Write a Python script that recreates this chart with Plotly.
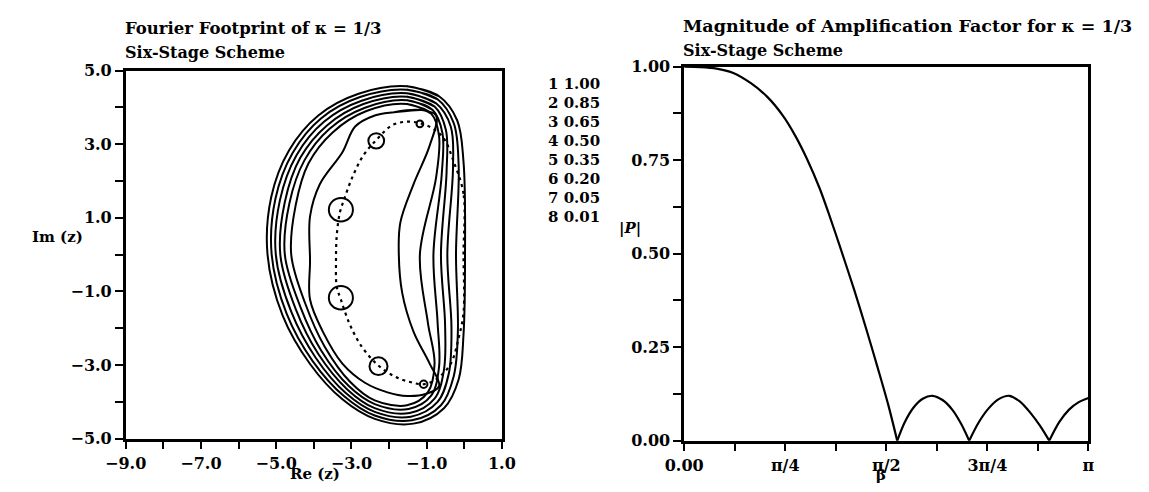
import plotly.graph_objects as go

W, H = 1149, 492

# ---------------- data: left panel (Fourier footprint, contours of |P|) ----------------
levels = [1.00, 0.85, 0.65, 0.50, 0.35, 0.20, 0.05, 0.01]

c100_x = [-1.52, -0.67, -0.19, -0.02, 0.02, -0.02, -0.15, -0.54, -1.35, -2.38, -3.24, -4.10, -4.83, -5.23, -5.13, -4.66, -3.88, -2.81]
c100_y = [4.57, 4.30, 3.65, 2.52, 0.00, -2.17, -3.39, -4.17, -4.59, -4.46, -3.93, -2.97, -1.65, 0.00, 1.57, 2.83, 3.78, 4.37]

c085_x = [-1.52, -0.71, -0.28, -0.15, -0.22, -0.17, -0.28, -0.62, -1.39, -2.38, -3.20, -4.03, -4.72, -5.12, -5.02, -4.56, -3.81, -2.77]
c085_y = [4.48, 4.22, 3.57, 2.43, 0.00, -2.09, -3.30, -4.09, -4.50, -4.37, -3.84, -2.89, -1.61, 0.00, 1.52, 2.77, 3.70, 4.28]

c065_x = [-1.52, -0.75, -0.36, -0.30, -0.45, -0.34, -0.41, -0.71, -1.42, -2.38, -3.15, -3.95, -4.60, -5.01, -4.90, -4.46, -3.73, -2.73]
c065_y = [4.38, 4.11, 3.48, 2.35, 0.00, -2.00, -3.22, -4.00, -4.40, -4.27, -3.76, -2.80, -1.55, 0.00, 1.48, 2.70, 3.61, 4.18]

c050_x = [-1.52, -0.79, -0.49, -0.47, -0.62, -0.51, -0.54, -0.79, -1.45, -2.38, -3.11, -3.88, -4.48, -4.89, -4.77, -4.36, -3.65, -2.68]
c050_y = [4.29, 4.02, 3.39, 2.26, 0.00, -1.91, -3.13, -3.91, -4.30, -4.17, -3.66, -2.70, -1.48, 0.00, 1.43, 2.63, 3.51, 4.09]

c035_x = [-1.52, -0.84, -0.58, -0.60, -0.82, -0.71, -0.67, -0.88, -1.48, -2.38, -3.07, -3.80, -4.36, -4.77, -4.65, -4.25, -3.58, -2.64]
c035_y = [4.19, 3.93, 3.30, 2.17, 0.00, -1.83, -3.04, -3.83, -4.19, -4.06, -3.57, -2.61, -1.41, 0.00, 1.39, 2.56, 3.42, 3.99]

c020_x = [-1.52, -0.88, -0.67, -0.75, -1.18, -0.97, -0.79, -0.97, -1.52, -2.38, -3.03, -3.71, -4.23, -4.60, -4.48, -4.14, -3.50, -2.60]
c020_y = [4.09, 3.83, 3.22, 2.09, 0.00, -1.83, -2.96, -3.74, -4.09, -3.96, -3.46, -2.50, -1.32, 0.00, 1.35, 2.48, 3.32, 3.90]

c005_x = [-1.87, -1.18, -0.75, -0.92, -1.35, -1.70, -1.74, -1.65, -1.35, -0.92, -0.67, -1.01, -1.52, -2.04, -2.64, -3.24, -3.76, -4.10, -4.10, -4.10, -3.84, -3.24, -2.90, -2.38]
c005_y = [3.87, 3.93, 3.78, 2.96, 1.91, 0.87, 0.00, -1.04, -2.09, -2.96, -3.57, -3.78, -3.84, -3.74, -3.48, -2.96, -2.09, -1.22, -0.17, 1.04, 1.91, 2.78, 3.48, 3.78]

# Fourier footprint (dashed)
foot_x = [-0.02, -0.02, -0.28, -0.54, -0.84, -1.18, -1.52, -1.91, -2.34, -2.68, -2.98, -3.20, -3.31, -3.39, -3.41, -3.39, -3.28, -3.07, -2.77, -2.34, -1.87, -1.44, -1.09, -0.75, -0.36, -0.15, -0.02, -0.02]
foot_y = [0.00, 1.65, 2.52, 3.15, 3.43, 3.57, 3.61, 3.52, 3.11, 2.70, 2.09, 1.48, 1.13, 0.52, -0.17, -0.87, -1.22, -1.83, -2.43, -2.96, -3.30, -3.46, -3.52, -3.39, -2.96, -2.26, -1.57, 0.00]

# zeros of P (|P| = 0.01 loops)
zero_x = [-1.18, -2.34, -3.28, -3.28, -2.28, -1.08]
zero_y = [3.55, 3.09, 1.22, -1.17, -3.03, -3.52]
zero_r = [0.09, 0.21, 0.32, 0.32, 0.24, 0.10]

left_xticks = [-9, -8, -7, -6, -5, -4, -3, -2, -1, 0, 1]
left_xlabels = ["−9.0", "", "−7.0", "", "−5.0", "", "−3.0", "", "−1.0", "", "1.0"]
left_yticks = [-5, -4, -3, -2, -1, 0, 1, 2, 3, 4, 5]
left_ylabels = ["−5.0", "", "−3.0", "", "−1.0", "", "1.0", "", "3.0", "", "5.0"]

# ---------------- data: right panel (|P| vs beta) ----------------
beta_over_pi = [0.000, 0.040, 0.080, 0.120, 0.165, 0.205, 0.245, 0.275, 0.303, 0.335, 0.360, 0.385, 0.420, 0.450, 0.480, 0.505, 0.527,
                0.545, 0.567, 0.590, 0.614, 0.640, 0.663, 0.685, 0.705,
                0.728, 0.752, 0.778, 0.804, 0.830, 0.856, 0.880, 0.903,
                0.928, 0.952, 0.976, 1.000]
amp = [1.000, 0.999, 0.995, 0.984, 0.956, 0.920, 0.868, 0.815, 0.755, 0.675, 0.600, 0.520, 0.405, 0.300, 0.190, 0.095, 0.000,
       0.048, 0.088, 0.112, 0.120, 0.108, 0.083, 0.045, 0.000,
       0.048, 0.085, 0.111, 0.120, 0.105, 0.075, 0.040, 0.000,
       0.050, 0.083, 0.103, 0.114]

right_xticks = [0, 0.125, 0.25, 0.375, 0.5, 0.625, 0.75, 0.875, 1.0]
right_xlabels = ["0.00", "", "π/4", "", "π/2", "", "3π/4", "", "π"]
right_yticks = [0, 0.125, 0.25, 0.375, 0.5, 0.625, 0.75, 0.875, 1.0]
right_ylabels = ["0.00", "", "0.25", "", "0.50", "", "0.75", "", "1.00"]

# ---------------- figure ----------------
FONT = "DejaVu Serif"
fig = go.Figure()

contours = [(c100_x, c100_y), (c085_x, c085_y), (c065_x, c065_y), (c050_x, c050_y),
            (c035_x, c035_y), (c020_x, c020_y), (c005_x, c005_y)]
for cx, cy in contours:
    fig.add_trace(go.Scatter(x=cx + [cx[0], cx[1]], y=cy + [cy[0], cy[1]], mode="lines",
                             line=dict(color="black", width=2, shape="spline", smoothing=1.0),
                             xaxis="x", yaxis="y", showlegend=False, hoverinfo="skip"))

fig.add_trace(go.Scatter(x=foot_x, y=foot_y, mode="lines",
                         line=dict(color="black", width=2.2, dash="3px,4px", shape="spline"),
                         xaxis="x", yaxis="y", showlegend=False, hoverinfo="skip"))

for zx, zy, zr in zip(zero_x, zero_y, zero_r):
    fig.add_shape(type="circle", xref="x", yref="y", x0=zx - zr, x1=zx + zr, y0=zy - zr, y1=zy + zr,
                  line=dict(color="black", width=2))

# amplification curve: smooth arcs between the zeros (cusps kept at the zeros)
seg_start = 0
for i, a in enumerate(amp):
    if (a == 0.0 and i > 0) or i == len(amp) - 1:
        fig.add_trace(go.Scatter(x=beta_over_pi[seg_start:i + 1], y=amp[seg_start:i + 1], mode="lines",
                                 line=dict(color="black", width=2.2, shape="spline", smoothing=0.8),
                                 xaxis="x2", yaxis="y2", showlegend=False, hoverinfo="skip"))
        seg_start = i


def px(x):
    return x / W


def py(y):
    return 1 - y / H


axis_common = dict(showline=True, linewidth=2.5, linecolor="black", mirror=True,
                   ticks="outside", ticklen=8, tickwidth=2, tickcolor="black",
                   showgrid=False, zeroline=False, fixedrange=True,
                   tickfont=dict(family=FONT, size=16, color="black", weight="bold"))

fig.update_layout(
    width=W, height=H, margin=dict(l=0, r=0, t=0, b=0),
    paper_bgcolor="white", plot_bgcolor="white",
    xaxis=dict(domain=[px(108), px(496)], range=[-9, 1], tickvals=left_xticks, ticktext=left_xlabels,
               anchor="y", **axis_common),
    yaxis=dict(domain=[py(447), py(64)], range=[-5, 5], tickvals=left_yticks, ticktext=left_ylabels,
               anchor="x", **axis_common),
    xaxis2=dict(domain=[px(684), px(1101)], range=[0, 1], tickvals=right_xticks, ticktext=right_xlabels,
                anchor="y2", **axis_common),
    yaxis2=dict(domain=[py(449), py(60)], range=[0, 1], tickvals=right_yticks, ticktext=right_ylabels,
                anchor="x2", **axis_common),
)

tf = dict(family=FONT, size=14, color="black", weight="bold")
ann = []


def text(x, y, s, xa="left", size=14):
    f = dict(tf)
    f["size"] = size
    ann.append(dict(x=px(x), y=py(y), xref="paper", yref="paper", text=s, showarrow=False,
                    xanchor=xa, yanchor="middle", font=f))


text(105, 20, "Fourier Footprint of κ = 1/3", size=16.5)
text(105, 45, "Six-Stage Scheme", size=16)
text(681, 18, "Magnitude of Amplification Factor for κ = 1/3", size=17.5)
text(681, 43, "Six-Stage Scheme", size=16)
for i, lv in enumerate(levels):
    text(542, 78 + 19.8 * i, f"{i + 1} {lv:.2f}", size=15)
text(66, 237, "Im (z)", xa="right", size=15)
text(303, 484, "Re (z)", xa="center", size=15)
text(628, 228, "|<i>P</i>|", xa="center", size=15)
text(887, 485, "β", xa="center", size=15)

fig.update_layout(annotations=ann)
fig.write_html("out.html")
